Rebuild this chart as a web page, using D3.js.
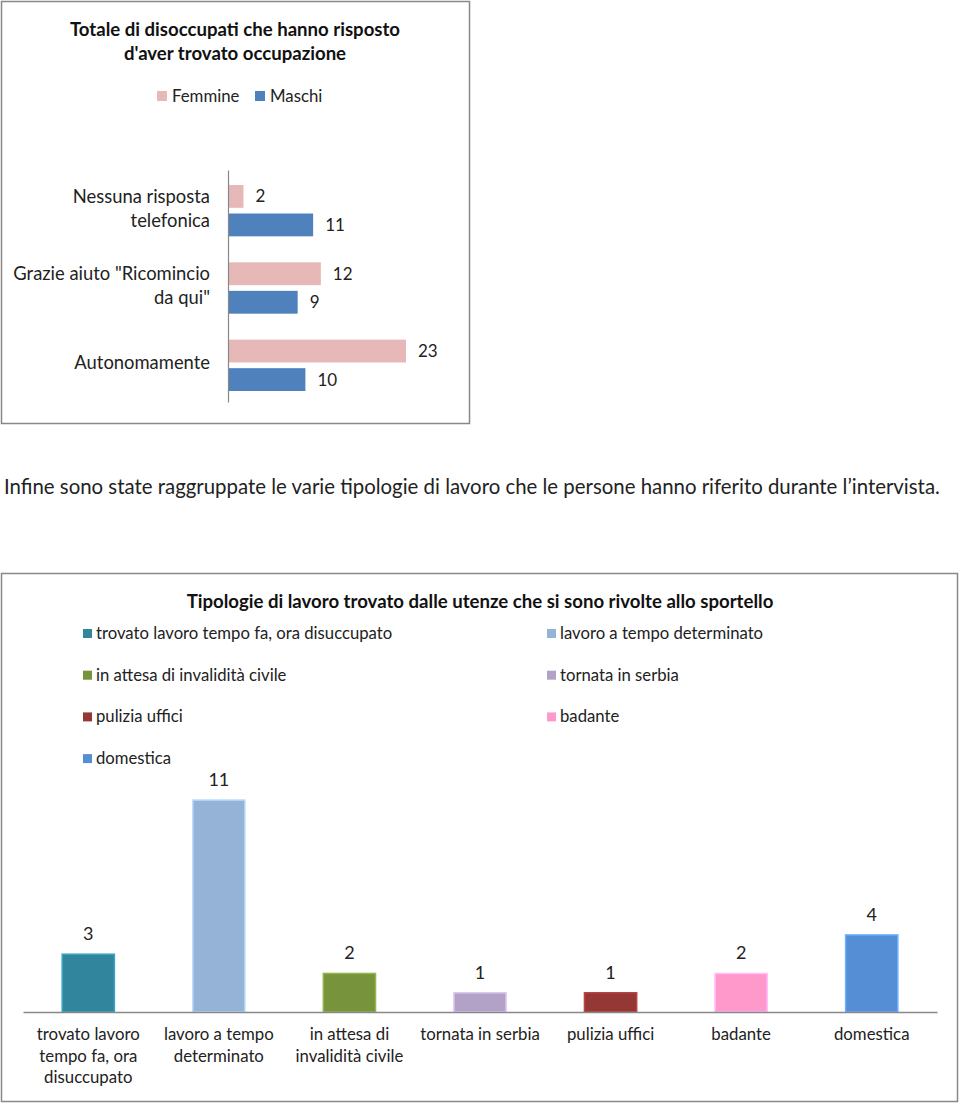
<!DOCTYPE html>
<html><head><meta charset="utf-8">
<script src="https://cdn.jsdelivr.net/npm/d3@7/dist/d3.min.js"></script>
<style>
body{margin:0;background:#fff;}
svg text{font-family:Lato,"Open Sans",sans-serif;}
</style></head>
<body>
<svg id="c" width="960" height="1105"></svg>
<script>
// Chart 1 data
const cat1 = ["Nessuna risposta|telefonica", "Grazie aiuto \"Ricomincio|da qui\"", "Autonomamente"];
const series1 = ["Femmine", "Maschi"];
const femmine = [2, 12, 23];
const maschi = [11, 9, 10];
const colors1 = ["#E6B9B8", "#4F81BD"];

// Paragraph
const paragraph = "Infine sono state raggruppate le varie tipologie di lavoro che le persone hanno riferito durante l\u2019intervista.";

// Chart 2 data
const cat2 = ["trovato lavoro tempo fa, ora disuccupato", "lavoro a tempo determinato", "in attesa di invalidità civile", "tornata in serbia", "pulizia uffici", "badante", "domestica"];
const cat2Wrapped = ["trovato lavoro|tempo fa, ora|disuccupato", "lavoro a tempo|determinato", "in attesa di|invalidità civile", "tornata in serbia", "pulizia uffici", "badante", "domestica"];
const values2 = [3, 11, 2, 1, 1, 2, 4];
const colors2 = ["#31859C", "#95B3D7", "#77933C", "#B3A2C7", "#953735", "#FF99CC", "#558ED5"];

const svg = d3.select("#c");

// ---------- Chart 1 ----------
const g1 = svg.append("g");
g1.append("rect").attr("x", 1.5).attr("y", 1.5).attr("width", 468).attr("height", 422)
  .attr("fill", "#fff").attr("stroke", "#888").attr("stroke-width", 1.5);
g1.append("text").attr("x", 235).attr("y", 36).attr("text-anchor", "middle")
  .attr("font-weight", "bold").attr("font-size", 18.6).attr("fill", "#111")
  .text("Totale di disoccupati che hanno risposto");
g1.append("text").attr("x", 235).attr("y", 60).attr("text-anchor", "middle")
  .attr("font-weight", "bold").attr("font-size", 18.6).attr("fill", "#111")
  .text("d'aver trovato occupazione");

const leg1x = [157, 255];
series1.forEach((s, i) => {
  g1.append("rect").attr("x", leg1x[i]).attr("y", 91).attr("width", 10).attr("height", 10).attr("fill", colors1[i]);
  g1.append("text").attr("x", leg1x[i] + 15).attr("y", 102).attr("font-size", 16.8).attr("fill", "#222").text(s);
});

const x1 = d3.scaleLinear().domain([0, 23]).range([228, 406]);
const y1 = d3.scaleBand().domain(cat1).range([170, 402]);
const inner1 = d3.scaleBand().domain(series1).range([15, y1.bandwidth() - 11]).paddingInner(0.2);

const data1 = [femmine, maschi];
series1.forEach((s, si) => {
  g1.selectAll(null).data(cat1).enter().append("rect")
    .attr("x", x1(0))
    .attr("y", d => y1(d) + inner1(s))
    .attr("width", (d, i) => x1(data1[si][i]) - x1(0))
    .attr("height", inner1.bandwidth())
    .attr("fill", colors1[si]);
  g1.selectAll(null).data(cat1).enter().append("text")
    .attr("x", (d, i) => x1(data1[si][i]) + 12)
    .attr("y", d => y1(d) + inner1(s) + inner1.bandwidth() / 2 + 6)
    .attr("font-size", 17).attr("fill", "#222")
    .text((d, i) => data1[si][i]);
});

const yAxis1 = g1.append("g").attr("transform", `translate(${x1(0)},0)`)
  .call(d3.axisLeft(y1).tickSize(0).tickFormat(""));
yAxis1.select(".domain").attr("stroke", "#888").attr("stroke-width", 1.2);

cat1.forEach(c => {
  const lines = c.split("|");
  const cy = y1(c) + y1.bandwidth() / 2;
  const lh = 24;
  const t = g1.append("text").attr("text-anchor", "end").attr("font-size", 18.4).attr("fill", "#222");
  lines.forEach((l, i) => {
    t.append("tspan").attr("x", 210).attr("y", cy + 6 + (i - (lines.length - 1) / 2) * lh).text(l);
  });
});

// ---------- Paragraph ----------
svg.append("text").attr("x", 4).attr("y", 494).attr("font-size", 20.4).attr("fill", "#222")
  .text(paragraph);

// ---------- Chart 2 ----------
const g2 = svg.append("g");
g2.append("rect").attr("x", 1.5).attr("y", 573.5).attr("width", 956).attr("height", 528)
  .attr("fill", "#fff").attr("stroke", "#888").attr("stroke-width", 1.5);
g2.append("text").attr("x", 480).attr("y", 608).attr("text-anchor", "middle")
  .attr("font-weight", "bold").attr("font-size", 18.6).attr("fill", "#111")
  .text("Tipologie di lavoro trovato dalle utenze che si sono rivolte allo sportello");

cat2.forEach((c, i) => {
  const col = i % 2, row = Math.floor(i / 2);
  const lx = col === 0 ? 83 : 547;
  const ly = 629 + row * 41.7;
  g2.append("rect").attr("x", lx).attr("y", ly).attr("width", 9).attr("height", 9).attr("fill", colors2[i]);
  g2.append("text").attr("x", lx + 13).attr("y", ly + 10).attr("font-size", 16.7).attr("fill", "#222").text(c);
});

const x2 = d3.scaleBand().domain(cat2).range([23, 937]).paddingInner(0.6).paddingOuter(0.3);
const y2 = d3.scaleLinear().domain([0, 11]).range([1012, 800]);

g2.selectAll(null).data(cat2).enter().append("rect")
  .attr("x", d => x2(d))
  .attr("y", (d, i) => y2(values2[i]))
  .attr("width", x2.bandwidth())
  .attr("height", (d, i) => y2(0) - y2(values2[i]))
  .attr("fill", (d, i) => colors2[i])
  .attr("stroke", (d, i) => d3.color(colors2[i]).brighter(0.6))
  .attr("stroke-width", 1.5);

g2.selectAll(null).data(cat2).enter().append("text")
  .attr("x", d => x2(d) + x2.bandwidth() / 2)
  .attr("y", (d, i) => y2(values2[i]) - 14)
  .attr("text-anchor", "middle").attr("font-size", 18).attr("fill", "#222")
  .text((d, i) => values2[i]);

const xAxis2 = g2.append("g").attr("transform", `translate(0,${y2(0)})`)
  .call(d3.axisBottom(x2).tickSize(0).tickFormat(""));
xAxis2.select(".domain").attr("stroke", "#888").attr("stroke-width", 1.5);

cat2.forEach((c, i) => {
  const lines = cat2Wrapped[i].split("|");
  const cx = x2(c) + x2.bandwidth() / 2;
  const t = g2.append("text").attr("text-anchor", "middle").attr("font-size", 16.8).attr("fill", "#222");
  lines.forEach((l, j) => {
    t.append("tspan").attr("x", cx).attr("y", 1040 + j * 21.5).text(l);
  });
});
</script>
</body></html>
